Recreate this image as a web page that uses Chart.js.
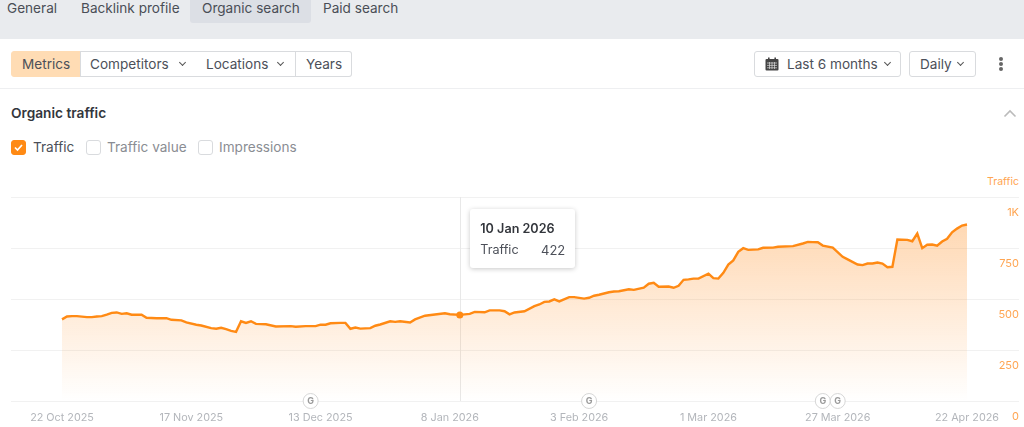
<!DOCTYPE html>
<html>
<head>
<meta charset="utf-8">
<script src="https://cdn.jsdelivr.net/npm/chart.js@4"></script>
<style>
html, body { margin: 0; padding: 0; width: 1024px; height: 427px; overflow: hidden; background: #fff; font-family: Inter, sans-serif; color: #4c5059; font-size: 13.6px; }
.abs { position: absolute; white-space: nowrap; }
#topband { left: 0; top: 0; width: 1024px; height: 39px; background: #e9ebee; }
#activetab { left: 190px; top: 0; width: 121px; height: 23px; background: #dcdfe5; border-radius: 0 0 3px 3px; }
.tab { top: 0; line-height: 17px; font-size: 13.6px; color: #4a4e56; }
.btn { top: 51px; height: 24px; line-height: 24px; background: #fff; border: 1px solid #d9dbde; box-sizing: content-box; font-size: 13.6px; color: #4c5059; }
.btn span { position: absolute; top: 0; }
.chev { position: absolute; width: 4px; height: 4px; border-right: 1.3px solid #555; border-bottom: 1.3px solid #555; transform: rotate(45deg); }
#sep { left: 0; top: 88px; width: 1024px; height: 1px; background: #eeeff1; }
#title { left: 11px; top: 104.5px; font-weight: 600; font-size: 13.7px; line-height: 17px; color: #33363c; }
.box { top: 140px; width: 13px; height: 13px; border: 1px solid #d9dbde; border-radius: 3px; background: #fff; }
.lab { top: 138.5px; line-height: 17px; font-size: 13.6px; color: #8a8d93; }
#axisname { right: 5px; top: 175px; font-size: 10.5px; color: #ffa552; line-height: 13px; }
#chartwrap { position: absolute; left: 0; top: 170px; width: 1024px; height: 257px; }
#tip { width: 105px; height: 59px; background: #fff; border-radius: 3px; box-shadow: 0 1px 5px rgba(0,0,0,0.22); z-index: 5; }
#tip b { position: absolute; left: 10.5px; top: 12px; font-size: 12.6px; font-weight: 600; color: #33363c; line-height: 16px; }
#tip .k { position: absolute; left: 10.5px; top: 33px; font-size: 12.6px; color: #4c5059; line-height: 16px; }
#tip .v { position: absolute; right: 9.5px; top: 33px; font-size: 13px; color: #4c5059; line-height: 16px; }
.dot { position: absolute; left: 999px; width: 4px; height: 4px; border-radius: 50%; background: #666; }
</style>
</head>
<body>
<div class="abs" id="topband"></div>
<div class="abs" id="activetab"></div>
<div class="abs tab" style="left:7px">General</div>
<div class="abs tab" style="left:81px">Backlink profile</div>
<div class="abs tab" style="left:202px">Organic search</div>
<div class="abs tab" style="left:323px">Paid search</div>

<div class="abs btn" style="left:11px;width:68px;background:#ffdcb4;border-color:#ffdcb4;border-radius:3px 0 0 3px"><span style="left:10px">Metrics</span></div>
<div class="abs btn" style="left:80px;width:115px"><span style="left:9px">Competitors</span><i class="chev" style="left:99px;top:8px"></i></div>
<div class="abs btn" style="left:196px;width:99px;border-left:0"><span style="left:10px">Locations</span><i class="chev" style="left:82px;top:8px"></i></div>
<div class="abs btn" style="left:296px;width:55px;border-left:0;border-radius:0 3px 3px 0"><span style="left:10px">Years</span></div>

<div class="abs btn" style="left:754px;width:145px;border-radius:3px">
  <svg style="position:absolute;left:10px;top:5px" width="14" height="14" viewBox="0 0 14 14"><rect x="0.5" y="2" width="13" height="11.5" rx="1" fill="#444"/><rect x="3" y="0.5" width="1.6" height="3" fill="#444"/><rect x="9.4" y="0.5" width="1.6" height="3" fill="#444"/><path d="M2 6h10M2 8.4h10M2 10.8h10M4.5 5v7M7 5v7M9.5 5v7" stroke="#ddd" stroke-width="0.7"/></svg>
  <span style="left:32px">Last 6 months</span><i class="chev" style="left:130px;top:8px"></i></div>
<div class="abs btn" style="left:909px;width:65px;border-radius:3px"><span style="left:10px">Daily</span><i class="chev" style="left:48px;top:8px"></i></div>
<i class="dot" style="top:57px"></i><i class="dot" style="top:62px"></i><i class="dot" style="top:67px"></i>

<div class="abs" id="sep"></div>
<div class="abs" id="title">Organic traffic</div>
<svg class="abs" style="left:1003px;top:109px" width="14" height="9" viewBox="0 0 14 9"><path d="M1.5 7.5 7 2l5.5 5.5" fill="none" stroke="#bbb" stroke-width="1.6"/></svg>

<div class="abs box" style="left:11px;background:#ff8a14;border-color:#ff8a14">
  <svg style="position:absolute;left:1px;top:1px" width="11" height="11" viewBox="0 0 11 11"><path d="M2 5.5 4.5 8 9 3" fill="none" stroke="#fff" stroke-width="1.7"/></svg></div>
<div class="abs lab" style="left:33px;color:#4c5059">Traffic</div>
<div class="abs box" style="left:86px"></div>
<div class="abs lab" style="left:107px">Traffic value</div>
<div class="abs box" style="left:198px"></div>
<div class="abs lab" style="left:219px">Impressions</div>

<div class="abs" id="axisname">Traffic</div>
<div id="chartwrap"><canvas id="trafficChart"></canvas></div>
<div class="abs" id="tip"><b id="tipDate"></b><span class="k">Traffic</span><span class="v" id="tipValue"></span></div>

<script>
// Days counted from 22 Oct 2025, kept where the line visibly bends
const days = [0,1,2,3,5,6,7,8,9,10,11,12,13,14,16,17,19,21,22,24,25,27,28,30,31,32,33,34,35,36,37,38,39,41,43,46,47,49,51,52,53,54,56,57,58,59,60,62,63,64,66,67,68,70,71,73,75,77,78,80,82,83,85,86,88,89,90,91,93,95,96,97,98,99,100,102,103,105,106,107,108,110,111,112,114,115,117,118,119,120,122,123,124,125,126,127,128,130,131,132,133,134,135,136,137,138,140,141,143,144,147,149,150,151,152,153,155,157,158,160,161,162,163,164,165,166,167,168,170,171,172,173,174,175,176,177,178,179,180,181,182];
const traffic = [400,414,416,416,411,411,414,416,423,432,434,427,430,423,423,408,406,406,398,395,385,374,370,357,354,359,352,344,339,391,383,391,378,376,365,367,364,367,367,374,374,381,383,383,354,360,355,357,369,375,391,388,391,385,400,418,424,430,425,422,427,437,435,444,444,440,425,434,440,465,473,486,488,498,488,509,509,502,506,516,521,533,537,538,548,545,556,575,579,560,561,555,565,594,596,600,600,624,602,600,628,669,689,731,749,741,743,751,752,756,759,772,780,779,778,762,752,707,694,669,666,674,674,679,674,656,658,792,790,783,821,749,766,767,761,782,795,827,845,860,865];

const tickDays = [0, 26, 52, 78, 104, 130, 156, 182];
const tickLabels = ['22 Oct 2025', '17 Nov 2025', '13 Dec 2025', '8 Jan 2026', '3 Feb 2026', '1 Mar 2026', '27 Mar 2026', '22 Apr 2026'];
const googleUpdates = [50, 106, 153, 156];
const hoverDay = 80;
const hoverLabel = '10 Jan 2026';

const orange = '#ff8a14';

// Vertical hover line goes under the series, G markers on top of the baseline
const overlays = {
    id: 'overlays',
    beforeDatasetsDraw(chart) {
        const { ctx, scales: { x, y } } = chart;
        const hx = x.getPixelForValue(hoverDay);
        ctx.save();
        ctx.strokeStyle = '#e8e8e8';
        ctx.lineWidth = 1;
        ctx.beginPath();
        ctx.moveTo(Math.round(hx) + 0.5, y.top);
        ctx.lineTo(Math.round(hx) + 0.5, y.bottom);
        ctx.stroke();
        ctx.restore();
    },
    afterDatasetsDraw(chart) {
        const { ctx, scales: { x, y } } = chart;
        ctx.save();
        googleUpdates.forEach(d => {
            const gx = x.getPixelForValue(d);
            ctx.beginPath();
            ctx.arc(gx, y.bottom, 7.5, 0, Math.PI * 2);
            ctx.fillStyle = '#fff';
            ctx.fill();
            ctx.lineWidth = 1;
            ctx.strokeStyle = '#d6d6d6';
            ctx.stroke();
            ctx.fillStyle = '#9a9a9a';
            ctx.font = '700 9px Inter';
            ctx.textAlign = 'center';
            ctx.textBaseline = 'middle';
            ctx.fillText('G', gx, y.bottom + 0.5);
        });
        ctx.restore();
    }
};

const chart = new Chart(document.getElementById('trafficChart'), {
    type: 'line',
    data: {
        datasets: [{
            label: 'Traffic',
            data: days.map((d, i) => ({ x: d, y: traffic[i] })),
            borderColor: orange,
            borderWidth: 2.4,
            tension: 0,
            fill: 'origin',
            backgroundColor: (c) => {
                const area = c.chart.chartArea;
                if (!area) return 'rgba(255,138,20,0.2)';
                const g = c.chart.ctx.createLinearGradient(0, area.top + 28, 0, area.bottom);
                g.addColorStop(0, 'rgba(255,150,50,0.37)');
                g.addColorStop(1, 'rgba(255,150,50,0)');
                return g;
            },
            pointRadius: (c) => days[c.dataIndex] === hoverDay ? 3.5 : 0,
            pointBackgroundColor: orange,
            pointBorderWidth: 0
        }]
    },
    plugins: [overlays],
    options: {
        responsive: true,
        maintainAspectRatio: false,
        animation: false,
        layout: { padding: { top: 27, left: 11, right: 5, bottom: 0 } },
        plugins: { legend: { display: false }, tooltip: { enabled: false } },
        events: [],
        scales: {
            x: {
                type: 'linear',
                min: -10.26,
                max: 192.46,
                grid: { display: false },
                border: { display: false },
                afterBuildTicks: (s) => { s.ticks = tickDays.map(v => ({ value: v })); },
                afterFit: (s) => { s.height = 26; },
                ticks: {
                    autoSkip: false,
                    maxRotation: 0,
                    padding: 2,
                    color: '#b3b6bb',
                    font: { family: 'Inter', size: 10.8 },
                    callback: (v) => tickLabels[tickDays.indexOf(v)]
                }
            },
            y: {
                position: 'right',
                min: 0,
                max: 1000,
                grid: { color: '#f1f1f1', drawTicks: false },
                border: { display: false },
                afterFit: (s) => { s.width = 0; },
                ticks: {
                    stepSize: 250,
                    mirror: true,
                    padding: 0,
                    labelOffset: 16,
                    color: '#ffa552',
                    font: { family: 'Inter', size: 11 },
                    callback: (v) => v === 1000 ? '1K' : String(v)
                }
            }
        }
    }
});

// Tooltip box sits beside the hovered day
const hoverValue = traffic[days.indexOf(hoverDay)];
document.getElementById('tipDate').textContent = hoverLabel;
document.getElementById('tipValue').textContent = hoverValue;
const tip = document.getElementById('tip');
tip.style.left = (chart.scales.x.getPixelForValue(hoverDay) + 10) + 'px';
tip.style.top = '209px';
</script>
</body>
</html>
